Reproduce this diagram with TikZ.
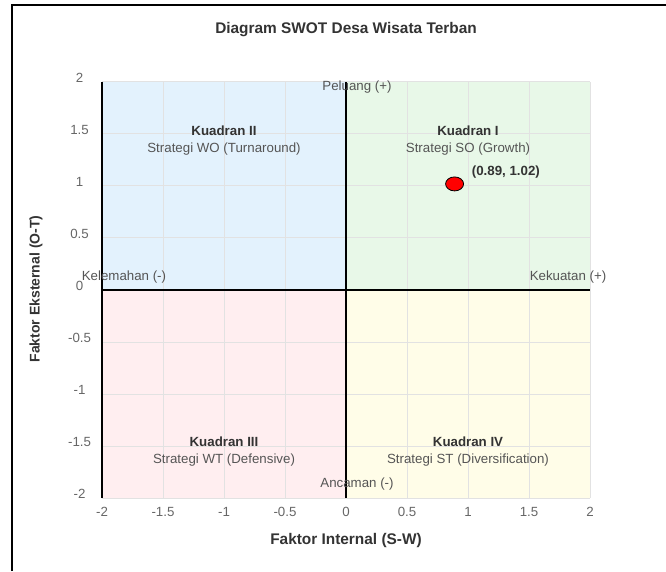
\documentclass[tikz,border=0pt]{standalone}
\usepackage{fontspec}
\setmainfont{Liberation Sans}
\usetikzlibrary{shapes.geometric}
\definecolor{soBg}{HTML}{E8F8E8}
\definecolor{woBg}{HTML}{E3F2FD}
\definecolor{wtBg}{HTML}{FFEEF0}
\definecolor{stBg}{HTML}{FFFDE8}
\definecolor{gridgray}{HTML}{E2E2E2}
\definecolor{headgray}{HTML}{333333}
\definecolor{labelgray}{HTML}{555555}
\definecolor{tickgray}{HTML}{666666}
\begin{document}
\begin{tikzpicture}[
    x=1pt, y=1pt,
    lbl/.style={text=labelgray, font=\fontsize{13.3}{15}\selectfont, inner sep=0pt},
    quadhead/.style={lbl, text=headgray, font=\fontsize{13.3}{15}\selectfont\bfseries},
    tick/.style={lbl, text=tickgray},
    axtitle/.style={text=headgray, font=\fontsize{15.4}{18}\selectfont\bfseries, inner sep=0pt},
    axis/.style={line width=2.2pt, black}
]
\useasboundingbox (0,0) rectangle (666,571);
\draw[line width=2pt] (12,0) -- (12,566) -- (666,566);
\node[axtitle] (title) at (346,541) {Diagram SWOT Desa Wisata Terban};
\node[axtitle] (xtitle) at (346,30) {Faktor Internal (S-W)};
\node[axtitle, rotate=90, font=\fontsize{14}{16}\selectfont\bfseries] (ytitle) at (36,282) {Faktor Eksternal (O-T)};
\begin{scope}[shift={(346,281)}, x=122pt, y=104pt]
\fill[soBg] (0,0) rectangle (2,2);
\fill[woBg] (-2,0) rectangle (0,2);
\fill[wtBg] (-2,-2) rectangle (0,0);
\fill[stBg] (0,-2) rectangle (2,0);
\foreach \v in {-2,-1.5,...,2} {
    \draw[gridgray, line width=1pt] (\v,-2) -- (\v,2);
    \draw[gridgray, line width=1pt] (-2,\v) -- (2,\v);
}
\foreach \v/\t in {-2/-2, -1.5/-1.5, -1/-1, -0.5/-0.5, 0/0, 0.5/0.5, 1/1, 1.5/1.5, 2/2} {
    \node[tick] at (-2.184,\v+0.04) {\t};
    \node[tick] at (\v,-2.135) {\t};
}
\draw[axis] (-2,-2) -- (-2,2);
\draw[axis] (0,-2) -- (0,2);
\draw[axis] (-2,0) -- (2,0);
\node[quadhead] (q1head) at (1,1.53) {Kuadran I};
\node[lbl] (q1text) at (1,1.356) {Strategi SO (Growth)};
\node[quadhead] (q2head) at (-1,1.53) {Kuadran II};
\node[lbl] (q2text) at (-1,1.356) {Strategi WO (Turnaround)};
\node[quadhead] (q3head) at (-1,-1.46) {Kuadran III};
\node[lbl] (q3text) at (-1,-1.635) {Strategi WT (Defensive)};
\node[quadhead] (q4head) at (1,-1.46) {Kuadran IV};
\node[lbl] (q4text) at (1,-1.635) {Strategi ST (Diversification)};
\node[lbl] (peluang) at (0.09,1.95) {Peluang (+)};
\node[lbl] (ancaman) at (0.09,-1.865) {Ancaman (-)};
\node[lbl] (kelemahan) at (-1.82,0.128) {Kelemahan (-)};
\node[lbl] (kekuatan) at (1.82,0.128) {Kekuatan (+)};
\node[ellipse, draw, fill=red, line width=0.8pt, minimum width=18pt, minimum height=14pt, inner sep=0pt] (posisi) at (0.89,1.02) {};
\node[quadhead, anchor=west] (posval) at (1.03,1.1375) {(0.89, 1.02)};
\end{scope}
\end{tikzpicture}
\end{document}
